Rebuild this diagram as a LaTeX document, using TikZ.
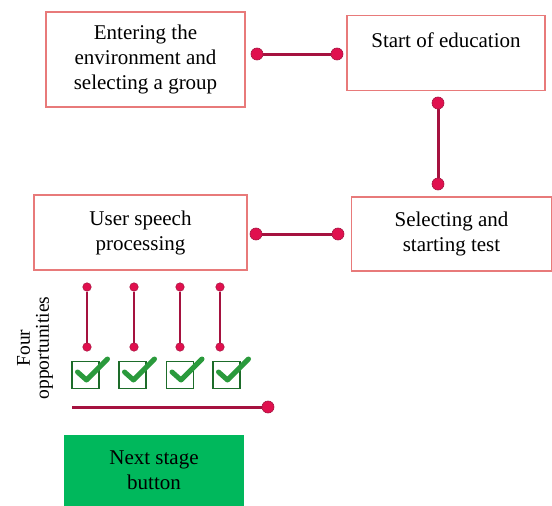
\documentclass[tikz,border=0pt]{standalone}
\usepackage{fontspec}
\setmainfont{Liberation Serif}
\definecolor{boxred}{HTML}{E87A7A}
\definecolor{linered}{HTML}{A5123F}
\definecolor{dotred}{HTML}{E0104E}
\definecolor{chkgreen}{HTML}{2A9A3C}
\definecolor{boxgreen}{HTML}{00B85C}
\begin{document}
\begin{tikzpicture}[x=1pt,y=-1pt,
  stepbox/.style={draw=boxred, line width=1.3pt, fill=white, inner sep=0pt, align=center,
    font=\fontsize{21}{25}\selectfont},
  conn/.style={draw=linered, line width=3pt},
  bigdot/.style={circle, fill=dotred, draw=linered, line width=0.6pt, minimum size=12pt, inner sep=0pt},
  smalldot/.style={circle, fill=dotred, draw=linered, line width=0.5pt, minimum size=8.5pt, inner sep=0pt},
  thinconn/.style={draw=linered, line width=2.2pt},
  chkbox/.style={draw=chkgreen!70!black, line width=1.4pt, minimum width=27pt, minimum height=27pt, inner sep=0pt},
  chk/.style={draw=chkgreen, line width=5pt, line cap=round, line join=round}
]
\useasboundingbox (0,0) rectangle (552,506);
% boxes
\node[stepbox, minimum width=199pt, minimum height=95pt] (enter) at (145.5,59.5) {Entering the\\environment and\\selecting a group};
\node[stepbox, minimum width=198pt, minimum height=75pt, anchor=north] (start) at (446,15) {};
\node[font=\fontsize{21}{25}\selectfont] (starttxt) at (446,40) {Start of education};
\node[stepbox, minimum width=200pt, minimum height=74pt] (select) at (451.5,234) {Selecting and\\starting test};
\node[stepbox, minimum width=213pt, minimum height=75pt] (user) at (140.5,232.5) {User speech\\processing};
% horizontal connector 1
\node[bigdot] (d1) at (257,54) {};
\node[bigdot] (d2) at (337,54) {};
\draw[conn] (d1) -- (d2);
% vertical connector
\node[bigdot] (d3) at (438,103) {};
\node[bigdot] (d4) at (438,184) {};
\draw[conn] (d3) -- (d4);
% horizontal connector 2
\node[bigdot] (d5) at (256,234) {};
\node[bigdot] (d6) at (338,234) {};
\draw[conn] (d5) -- (d6);
% four small connectors
\foreach \i/\x in {1/87,2/134,3/180,4/220}{
  \node[smalldot] (t\i) at (\x,287) {};
  \node[smalldot] (b\i) at (\x,347) {};
  \draw[thinconn] (t\i) -- (b\i);
}
% checkboxes
\foreach \i/\x in {1/85.5,2/132.5,3/180,4/226.5}{
  \node[chkbox] (c\i) at (\x,375) {};
  \draw[chk] ([xshift=-8pt,yshift=3pt]c\i.center) -- ([xshift=1pt,yshift=-5pt]c\i.center) -- ([xshift=22pt,yshift=16pt]c\i.center);
}
% label
\node[rotate=90, align=center, font=\fontsize{19.5}{19}\selectfont] (four) at (35,348) {Four\\opportunities};
% bottom line
\coordinate (lstart) at (72,407);
\node[bigdot] (d7) at (268,407) {};
\draw[conn] (lstart) -- (d7);
% green button
\node[fill=boxgreen, minimum width=180pt, minimum height=71pt, inner sep=0pt, align=center,
  font=\fontsize{21}{25}\selectfont] (next) at (154,470.5) {Next stage\\button};
\end{tikzpicture}
\end{document}
